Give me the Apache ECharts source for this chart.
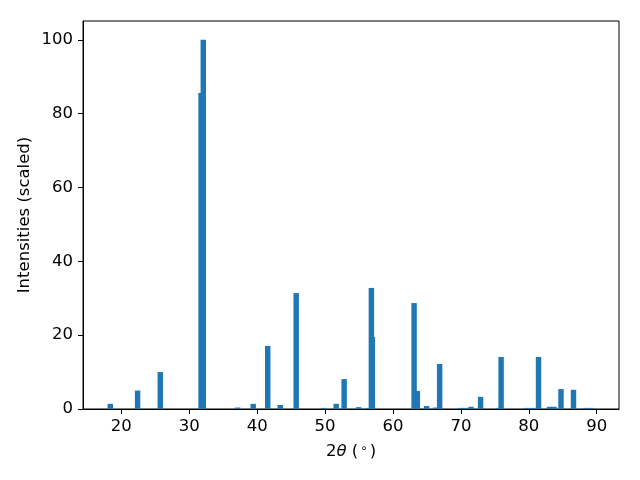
<!DOCTYPE html>
<html>
<head>
<meta charset="utf-8">
<script src="https://cdn.jsdelivr.net/npm/echarts@6/dist/echarts.min.js"></script>
<style>html,body{margin:0;padding:0;background:#fff}#chart{width:640px;height:480px}</style>
</head>
<body>
<div id="chart"></div>
<script>
// 2θ peak positions (degrees)
const peakPositions = [18.38, 22.40, 25.74, 31.74, 32.07, 37.14, 39.42, 41.56, 43.40, 45.75,
  49.80, 51.64, 52.81, 54.95, 56.45, 56.82, 56.97, 63.11, 63.59, 64.95,
  66.31, 66.87, 69.96, 70.69, 71.50, 72.90, 75.58, 75.92, 79.67, 80.48,
  81.43, 83.05, 83.71, 84.74, 86.58, 88.35, 89.16];
// scaled intensities
const intensities = [1.4, 5.0, 10.0, 85.6, 100, 0.4, 1.4, 17.1, 1.1, 31.4,
  0.3, 1.4, 8.1, 0.5, 0.3, 32.8, 19.5, 28.7, 4.9, 0.8,
  0.4, 12.2, 0.3, 0.3, 0.6, 3.3, 0.3, 14.1, 0.3, 0.3,
  14.1, 0.6, 0.6, 5.4, 5.2, 0.3, 0.3];
const xTicks = [20, 30, 40, 50, 60, 70, 80, 90];
const yTicks = [0, 20, 40, 60, 80, 100];

const BAR_W = 0.8;
const FONT = 'DejaVu Sans';
const FS = 16.5;
const seriesData = peakPositions.map((x, i) => [x, intensities[i]]);

const chart = echarts.init(document.getElementById('chart'), null, {renderer: 'canvas'});
chart.setOption({
  animation: false,
  backgroundColor: '#fff',
  grid: {left: 83, top: 21, width: 536, height: 388, show: true, borderColor: '#000', borderWidth: 1, backgroundColor: 'transparent'},
  xAxis: {
    type: 'value', min: 14.36, max: 93.28,
    axisLine: {show: true, onZero: false, lineStyle: {color: '#000', width: 1}},
    axisTick: {show: true, customValues: xTicks, length: 5, lineStyle: {color: '#000', width: 1}},
    axisLabel: {customValues: xTicks, color: '#000', fontSize: FS, fontFamily: FONT, margin: 9},
    splitLine: {show: false}
  },
  yAxis: {
    type: 'value', min: 0, max: 105.1,
    axisLine: {show: true, lineStyle: {color: '#000', width: 1}},
    axisTick: {show: true, customValues: yTicks, length: 5, lineStyle: {color: '#000', width: 1}},
    axisLabel: {customValues: yTicks, color: '#000', fontSize: FS, fontFamily: FONT, margin: 10},
    splitLine: {show: false}
  },
  graphic: [
    {type: 'text', x: 351, y: 452, style: {
      text: '{n|2}{i|θ}{n| (}{s|∘}{n|)}', align: 'center', verticalAlign: 'middle',
      rich: {
        n: {fontSize: FS, fontFamily: FONT, fill: '#000'},
        i: {fontSize: FS, fontFamily: FONT, fontStyle: 'italic', fill: '#000'},
        s: {fontSize: 12, fontFamily: FONT, fill: '#000', verticalAlign: 'top', padding: [0, 2, 7, 2]}
      }
    }},
    {type: 'text', x: 25, y: 215, rotation: Math.PI / 2, style: {
      text: 'Intensities (scaled)', align: 'center', verticalAlign: 'middle',
      fontSize: FS, fontFamily: FONT, fill: '#000'
    }}
  ],
  series: [{
    type: 'custom',
    data: seriesData,
    encode: {x: 0, y: 1},
    renderItem: function (params, api) {
      const x = api.value(0), y = api.value(1);
      const p1 = api.coord([x - BAR_W / 2, y]);
      const p2 = api.coord([x + BAR_W / 2, 0]);
      return {type: 'rect', shape: {x: p1[0], y: p1[1], width: p2[0] - p1[0], height: p2[1] - p1[1]},
        style: {fill: '#1f77b4'}};
    }
  }]
});
</script>
</body>
</html>
